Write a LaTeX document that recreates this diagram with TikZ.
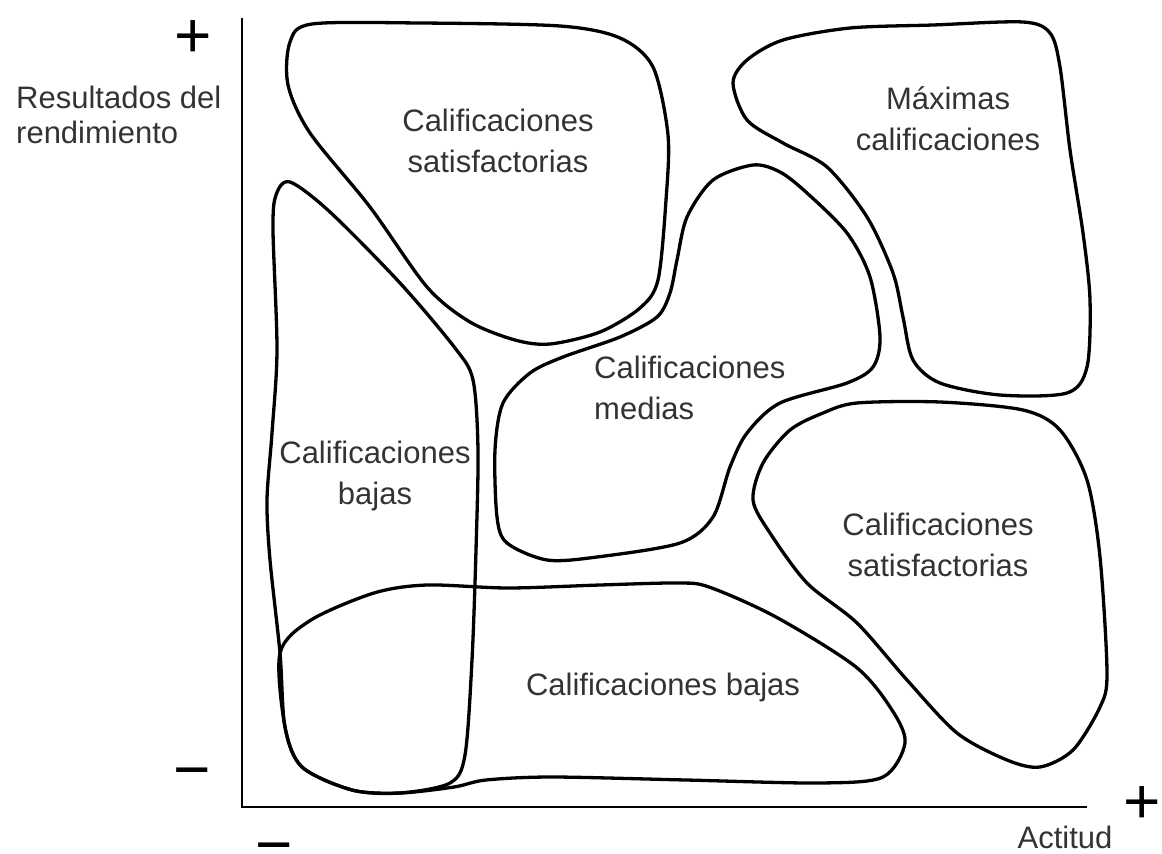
\documentclass[tikz,border=0pt]{standalone}
\usepackage{fontspec}
\setmainfont{Liberation Sans}
\usepackage{tikz}

\begin{document}
\begin{tikzpicture}[x=1pt,y=-1pt,
    zona/.style={line width=3.3pt,line join=round},
    rotulo/.style={inner sep=0pt,align=center,text=black!80,font=\fontsize{31}{41}\selectfont},
    signo/.style={inner sep=0pt,font=\fontsize{64}{64}\selectfont}]
    \useasboundingbox (0,0) rectangle (1162,854);
    \coordinate (ytope) at (242,18);
    \coordinate (origen) at (242,807);
    \coordinate (xfin) at (1087,807);
    \draw[line width=2.8pt] (ytope) -- (origen) -- (xfin);
    \draw[zona] plot[smooth cycle] coordinates{(312,24) (420,23) (560,26) (620,38) (653,67) (668,135) (666,200) (658,280) (640,308) (600,332) (550,344) (515,340) (470,322) (427,287) (370,207) (310,133) (288,85) (290,42)};
    \draw[zona] plot[smooth cycle] coordinates{(290,182) (330,212) (400,283) (455,348) (473,380) (478,450) (476,550) (472,660) (465,755) (450,783) (400,793) (352,790) (302,767) (285,727) (280,653) (270,560) (267,500) (272,433) (277,350) (273,230) (276,195)};
    \draw[zona] plot[smooth cycle] coordinates{(280,653) (311,620) (374,593) (427,585) (508,588) (600,585) (677,583) (709,587) (776,617) (856,667) (892,710) (905,743) (883,777) (820,783) (686,780) (552,777) (486,780) (454,787) (400,793) (352,790) (302,767) (285,727)};
    \draw[zona] plot[smooth cycle] coordinates{(753,165) (713,180) (687,217) (677,260) (670,293) (657,317) (620,337) (563,357) (530,373) (503,403) (495,450) (497,517) (507,543) (547,560) (597,557) (680,543) (713,517) (730,467) (747,433) (780,403) (847,383) (873,367) (880,337) (870,277) (847,233) (807,193) (780,172)};
    \draw[zona] plot[smooth cycle] coordinates{(1023,22) (1050,33) (1060,67) (1070,150) (1083,233) (1090,300) (1087,367) (1067,393) (1000,395) (940,383) (913,360) (903,317) (893,273) (867,217) (827,167) (783,143) (747,120) (733,83) (747,60) (783,40) (850,28) (933,25)};
    \draw[zona] plot[smooth cycle] coordinates{(857,403) (940,402) (1023,410) (1060,430) (1087,480) (1100,557) (1107,673) (1100,707) (1073,750) (1040,767) (1007,760) (957,733) (907,680) (857,623) (807,583) (770,533) (753,500) (763,463) (790,430) (823,413)};
    \path (498,141) node[rotulo] (satisf1) {Calificaciones\\satisfactorias};
    \path (375,476) node[rotulo] (bajas1) {Calificaciones\\bajas};
    \path (663,687) node[rotulo] (bajas2) {Calificaciones bajas};
    \path (594,388) node[rotulo,anchor=west,align=left] (medias) {Calificaciones\\medias};
    \path (948,119) node[rotulo] (maximas) {Máximas\\calificaciones};
    \path (938,545) node[rotulo] (satisf2) {Calificaciones\\satisfactorias};
    \path (16,115) node[rotulo,anchor=west,align=left,font=\fontsize{31}{35}\selectfont] (ylabel) {Resultados del\\rendimiento};
    \path (1065,837) node[rotulo] (xlabel) {Actitud};
    \path (193,39) node[signo] (ymas) {+};
    \path (192,780) node[signo] (ymenos) {−};
    \path (274,855) node[signo] (xmenos) {−};
    \path (1142,805) node[signo] (xmas) {+};
\end{tikzpicture}
\end{document}
